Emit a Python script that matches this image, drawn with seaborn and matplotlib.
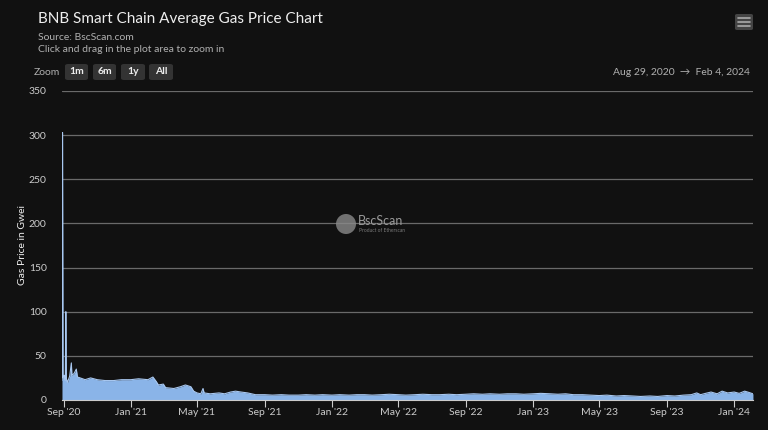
# BNB Smart Chain average gas price chart (BscScan style, dark theme)
import pandas as pd
import matplotlib.pyplot as plt
import matplotlib.dates as mdates
from matplotlib.patches import FancyBboxPatch, Ellipse
import seaborn as sns

# Data (date, gas price in Gwei)
dates = [
    '2020-08-29', '2020-08-30', '2020-08-31', '2020-09-02', '2020-09-04', '2020-09-05',
    '2020-09-06', '2020-09-08', '2020-09-12', '2020-09-15', '2020-09-16', '2020-09-20',
    '2020-09-24', '2020-09-26', '2020-10-01', '2020-10-10', '2020-10-20', '2020-11-01',
    '2020-11-15', '2020-12-01', '2020-12-15', '2021-01-01', '2021-01-15', '2021-02-01',
    '2021-02-10', '2021-02-16', '2021-02-20', '2021-03-01', '2021-03-05', '2021-03-20',
    '2021-04-01', '2021-04-10', '2021-04-20', '2021-04-25', '2021-05-01', '2021-05-08',
    '2021-05-12', '2021-05-14', '2021-05-25', '2021-06-10', '2021-06-20', '2021-07-01',
    '2021-07-10', '2021-07-20', '2021-08-01', '2021-08-15', '2021-09-01', '2021-09-15',
    '2021-10-01', '2021-10-15', '2021-11-01', '2021-11-15', '2021-12-01', '2021-12-15',
    '2022-01-01', '2022-01-15', '2022-02-01', '2022-02-15', '2022-03-01', '2022-03-15',
    '2022-04-01', '2022-04-15', '2022-05-01', '2022-05-15', '2022-06-01', '2022-06-15',
    '2022-07-01', '2022-07-15', '2022-08-01', '2022-08-15', '2022-09-01', '2022-09-15',
    '2022-10-01', '2022-10-15', '2022-11-01', '2022-11-15', '2022-12-01', '2022-12-15',
    '2023-01-01', '2023-01-15', '2023-02-01', '2023-02-15', '2023-03-01', '2023-03-15',
    '2023-04-01', '2023-04-15', '2023-05-01', '2023-05-15', '2023-06-01', '2023-06-15',
    '2023-07-01', '2023-07-15', '2023-08-01', '2023-08-15', '2023-09-01', '2023-09-15',
    '2023-10-01', '2023-10-15', '2023-10-25', '2023-11-01', '2023-11-10', '2023-11-20',
    '2023-12-01', '2023-12-10', '2023-12-20', '2024-01-01', '2024-01-10', '2024-01-20',
    '2024-01-28', '2024-02-04',
]
gas_price = [
    22, 303, 25, 28, 22, 100,
    24, 20, 27, 42, 28, 30,
    35, 26, 25, 23, 25, 23,
    22, 22, 23, 23, 24, 23,
    26, 21, 17, 18, 14, 13,
    15, 17, 15, 10, 8, 7,
    13, 8, 7, 8, 7, 9,
    10, 9, 8, 6, 6, 5.5,
    6, 5.5, 5.5, 6, 5.5, 6,
    5.5, 6, 5.5, 6, 6, 5.5,
    6, 6.5, 6, 5.5, 6, 6.5,
    6, 6, 6.5, 6, 6.5, 7,
    6.5, 7, 6.5, 7, 7, 6.5,
    7, 7.5, 7, 6.5, 7, 6,
    6, 5.5, 5, 5.5, 4.5, 5,
    4.5, 4, 4.5, 4, 5, 4.5,
    5.5, 6, 8, 6, 7.5, 9,
    7, 10, 8, 9, 7.5, 10,
    8.5, 7,
]

y_ticks = [0, 50, 100, 150, 200, 250, 300, 350]
x_ticks = ['2020-09-01', '2021-01-01', '2021-05-01', '2021-09-01', '2022-01-01', '2022-05-01',
           '2022-09-01', '2023-01-01', '2023-05-01', '2023-09-01', '2024-01-01']

df = pd.DataFrame({'date': pd.to_datetime(dates), 'gwei': gas_price})

bg = '#111111'
sns.set_theme(style='dark', rc={'figure.facecolor': bg, 'axes.facecolor': bg})
plt.rcParams['font.family'] = ['Lato', 'DejaVu Sans']

fig = plt.figure(figsize=(7.68, 4.30), dpi=100)
ax = fig.add_axes([0.0807, 0.0698, 0.8997, 0.7186])

# area + line
ax.fill_between(df['date'], df['gwei'], 0, color='#8ab4e8', linewidth=0, zorder=2)
sns.lineplot(data=df, x='date', y='gwei', ax=ax, color='#a9c8f0', linewidth=0.8, zorder=3)

ax.set_xlim(pd.Timestamp('2020-08-29'), pd.Timestamp('2024-02-04'))
ax.set_ylim(0, 350)
ax.set_yticks(y_ticks)
ax.set_xticks(pd.to_datetime(x_ticks))
ax.xaxis.set_major_formatter(mdates.DateFormatter("%b '%y"))
ax.grid(axis='y', color='#6a6a6a', linewidth=0.9)
ax.grid(axis='x', visible=False)
for s in ['top', 'right', 'left']:
    ax.spines[s].set_visible(False)
ax.spines['bottom'].set_color('#cccccc')
ax.spines['bottom'].set_linewidth(0.8)
ax.tick_params(axis='x', colors='#cccccc', labelsize=7.5, length=5, width=0.8, direction='out',
               bottom=True, pad=1)
ax.tick_params(axis='y', colors='#cccccc', labelsize=7.5, length=0, pad=11)
ax.set_xlabel('')
ax.set_ylabel('Gas Price in Gwei', color='#eeeeee', fontsize=7.5)
ax.yaxis.set_label_coords(-0.051, 0.5)

# watermark
fig.add_artist(Ellipse((346 / 768, 1 - 224 / 430), 20 / 768, 20 / 430,
                       transform=fig.transFigure, facecolor='#8a8a8a', edgecolor='none',
                       alpha=0.8))
fig.text(358 / 768, 1 - 221 / 430, 'BscScan', color='#9a9a9a', fontsize=9,
         ha='left', va='center')
fig.text(359 / 768, 1 - 231 / 430, 'Product of Etherscan', color='#7a7a7a', fontsize=3.5,
         ha='left', va='center')

# header texts
fig.text(0.049, 0.955, 'BNB Smart Chain Average Gas Price Chart', color='#eeeeee',
         fontsize=11, ha='left', va='center')
fig.text(0.049, 0.912, 'Source: BscScan.com', color='#b0b0b0', fontsize=7.5, ha='left', va='center')
fig.text(0.049, 0.886, 'Click and drag in the plot area to zoom in', color='#b0b0b0',
         fontsize=7.5, ha='left', va='center')

# zoom buttons
fig.text(0.044, 0.832, 'Zoom', color='#b0b0b0', fontsize=7.5, ha='left', va='center')
for label, x0, w in [('1m', 65, 23), ('6m', 93, 23), ('1y', 121, 24), ('All', 149, 24)]:
    fig.add_artist(FancyBboxPatch((x0 / 768, 1 - 80 / 430), w / 768, 16 / 430,
                                  boxstyle='round,pad=0,rounding_size=0.004',
                                  transform=fig.transFigure, facecolor='#333333',
                                  edgecolor='none'))
    fig.text((x0 + w / 2) / 768, 1 - 72 / 430, label, color='#eeeeee', fontsize=7.5,
             fontweight='bold', ha='center', va='center')

fig.text(0.976, 0.832, 'Aug 29, 2020  \u2192  Feb 4, 2024', color='#b0b0b0', fontsize=7.5,
         ha='right', va='center')

# menu icon
fig.add_artist(FancyBboxPatch((735 / 768, 1 - 30 / 430), 18 / 768, 16 / 430,
                              boxstyle='round,pad=0,rounding_size=0.003',
                              transform=fig.transFigure, facecolor='#444444', edgecolor='none'))
for yy in [18, 22, 26]:
    fig.add_artist(plt.Line2D([738 / 768, 750 / 768], [1 - yy / 430, 1 - yy / 430],
                              transform=fig.transFigure, color='#aaaaaa', linewidth=1.2))

fig.savefig('out.png', dpi=100, facecolor=bg)
